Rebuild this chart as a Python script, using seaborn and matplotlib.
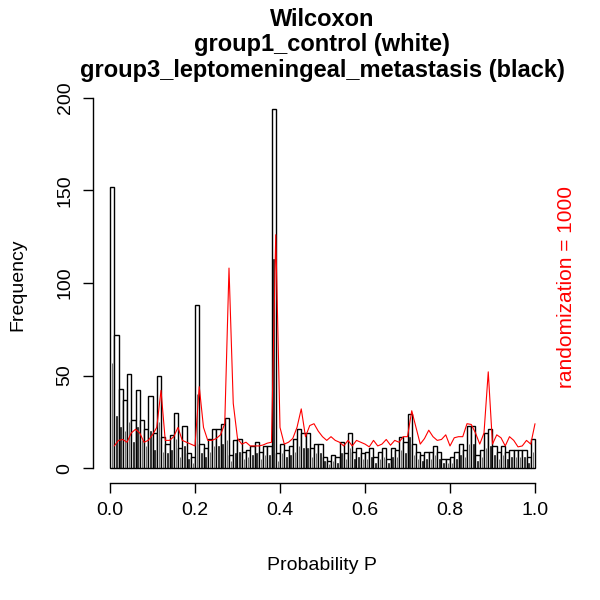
import numpy as np
import pandas as pd
import matplotlib
matplotlib.use("Agg")
import matplotlib.pyplot as plt
import seaborn as sns

# p-value histogram counts, bins of width 0.01 from 0 to 1
bin_mids = (np.arange(100) + 0.5) / 100

white_counts = [152, 72, 43, 37, 51, 26, 42, 26, 21, 39,
                19, 50, 17, 13, 18, 30, 11, 23, 8, 6,
                88, 13, 11, 16, 21, 21, 24, 27, 7, 15,
                16, 9, 10, 12, 14, 9, 12, 12, 194, 8,
                13, 10, 12, 16, 21, 19, 19, 11, 13, 13,
                6, 4, 7, 6, 14, 8, 19, 9, 11, 8,
                9, 11, 6, 9, 11, 5, 11, 10, 17, 14,
                29, 13, 9, 7, 9, 9, 12, 9, 5, 5,
                6, 9, 13, 10, 23, 23, 7, 10, 19, 21,
                12, 9, 12, 9, 10, 10, 10, 10, 6, 16]

black_counts = [57, 28, 22, 20, 25, 14, 22, 15, 12, 20,
                10, 25, 9, 8, 10, 16, 6, 12, 5, 3,
                40, 8, 6, 9, 12, 12, 13, 15, 4, 8,
                9, 5, 6, 7, 8, 5, 7, 7, 113, 4,
                8, 6, 7, 9, 12, 11, 11, 6, 8, 8,
                4, 2, 4, 3, 8, 5, 11, 5, 6, 5,
                5, 6, 3, 5, 6, 3, 6, 6, 10, 8,
                17, 7, 5, 4, 5, 5, 7, 5, 3, 3,
                3, 5, 7, 6, 13, 13, 4, 6, 11, 12,
                7, 5, 7, 5, 6, 6, 6, 6, 3, 9]

rand_x = np.arange(1, 101) / 100
rand_counts = [12, 15, 15.5, 14, 19, 21, 19, 14, 15, 18,
               22, 42, 15, 15, 17, 22, 15, 14, 13, 12,
               44, 22, 15, 15, 16, 18, 24, 108, 35, 16,
               13, 14, 12, 12, 12, 12.5, 13.5, 14, 126, 22,
               13, 14, 16, 22, 32, 17, 23, 24, 20, 17,
               15, 17, 15, 14, 12, 15, 12, 15, 14, 13,
               11.5, 15, 12, 13, 15.5, 12.4, 15, 14, 17, 17,
               31, 22, 13, 16, 20.5, 17, 15, 15.5, 18, 12,
               16.4, 17, 17, 24, 23.6, 19, 13, 19, 52, 13,
               18, 16.4, 12, 17, 15, 11.5, 12, 15, 13, 24]

hist_df = pd.DataFrame({"p": bin_mids,
                        "white": np.asarray(white_counts, dtype=float),
                        "black": np.asarray(black_counts, dtype=float)})
rand_df = pd.DataFrame({"p": rand_x, "count": rand_counts})

sns.set_theme(style="white")
plt.rcParams["font.family"] = ["Liberation Sans", "DejaVu Sans"]
plt.rcParams["text.color"] = "black"
plt.rcParams["axes.labelcolor"] = "black"
plt.rcParams["xtick.color"] = "black"
plt.rcParams["ytick.color"] = "black"

fig = plt.figure(figsize=(6, 6), dpi=100)
ax = fig.add_axes([0.155, 0.195, 0.765, 0.667])

sns.histplot(data=hist_df, x="p", weights="white", binwidth=0.01,
             binrange=(0, 1), color="white", edgecolor="black",
             linewidth=1, alpha=1, ax=ax)
sns.histplot(data=hist_df, x="p", weights="black", binwidth=0.01,
             binrange=(0, 1), color="black", edgecolor="black",
             linewidth=0.4, alpha=1, shrink=0.12, ax=ax)
sns.lineplot(data=rand_df, x="p", y="count", color="red", linewidth=0.8,
             ax=ax)

ax.set_xlim(-0.04, 1.04)
ax.set_ylim(-8, 208)
for side in ["top", "right"]:
    ax.spines[side].set_visible(False)
ax.spines["left"].set_bounds(0, 200)
ax.spines["bottom"].set_bounds(0, 1)
for side in ["left", "bottom"]:
    ax.spines[side].set_color("black")
    ax.spines[side].set_linewidth(1)

ax.set_xticks([0, 0.2, 0.4, 0.6, 0.8, 1.0])
ax.set_xticklabels(["0.0", "0.2", "0.4", "0.6", "0.8", "1.0"], fontsize=14)
ax.set_yticks([0, 50, 100, 150, 200])
ax.set_yticklabels(["0", "50", "100", "150", "200"], fontsize=14,
                   rotation=90, va="center")
ax.tick_params(direction="out", length=7, width=1, color="black", pad=7,
               left=True, bottom=True)
ax.set_xlabel("")
ax.set_ylabel("")

# titles are centred over the plot region, R style
cx = 322 / 600
fig.text(cx, 1 - 20 / 600, "Wilcoxon", ha="center", va="center",
         fontsize=17, fontweight="bold")
fig.text(cx, 1 - 45 / 600, "group1_control (white)", ha="center",
         va="center", fontsize=17, fontweight="bold")
fig.text(cx, 1 - 70 / 600, "group3_leptomeningeal_metastasis (black)",
         ha="center", va="center", fontsize=17, fontweight="bold")
fig.text(18 / 600, 1 - 285 / 600, "Frequency", rotation=90, ha="center",
         va="center", fontsize=14)
fig.text(cx, 1 - 565 / 600, "Probability P", ha="center", va="center",
         fontsize=14)
fig.text(567 / 600, 1 - 287 / 600, "randomization = 1000", rotation=90,
         ha="center", va="center", fontsize=15, color="red")

fig.savefig("out.png", dpi=100)
